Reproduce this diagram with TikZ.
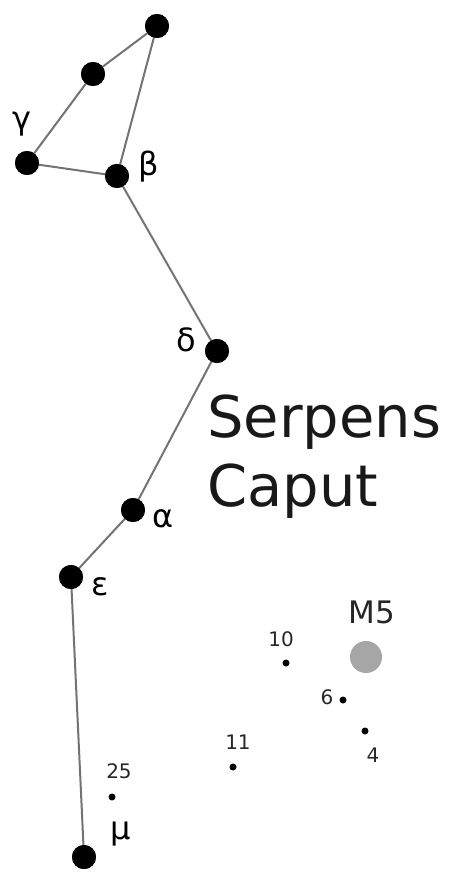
\documentclass[tikz,border=0pt]{standalone}
\usepackage{fontspec}
\setmainfont{DejaVu Sans}
\begin{document}
\begin{tikzpicture}[x=1pt,y=-1pt,
  bigstar/.style={circle,fill=black,inner sep=0pt,minimum size=24pt},
  smallstar/.style={circle,fill=black,inner sep=0pt,minimum size=7pt},
  cline/.style={draw=black!55,line width=2pt},
  glabel/.style={font=\fontsize{32}{34}\selectfont,inner sep=0pt},
  nlabel/.style={font=\fontsize{20}{22}\selectfont,inner sep=0pt,text=black!85}]
\useasboundingbox (0,0) rectangle (450,877);
% bright stars
\node[bigstar] (top) at (157,26) {};
\node[bigstar] (mid) at (93,74) {};
\node[bigstar] (gam) at (27,163) {};
\node[bigstar] (bet) at (117,176) {};
\node[bigstar] (del) at (217,351) {};
\node[bigstar] (alp) at (133,510) {};
\node[bigstar] (eps) at (71,577) {};
\node[bigstar] (mu) at (84,857) {};
% connectors
\draw[cline] (top.center) -- (mid.center) -- (gam.center) -- (bet.center) -- (top.center);
\draw[cline] (bet.center) -- (del.center) -- (alp.center) -- (eps.center) -- (mu.center);
\foreach \s in {top,mid,gam,bet,del,alp,eps,mu}{\node[bigstar] at (\s) {};}
% greek labels
\node[glabel] (lgam) at (22,124) {γ};
\node[glabel] (lbet) at (149,167) {β};
\node[glabel] (ldel) at (186,340) {δ};
\node[glabel] (lalp) at (163,519) {α};
\node[glabel] (leps) at (100,587) {ε};
\node[glabel] (lmu) at (121,834) {μ};
% faint stars
\node[smallstar] (s25) at (112,797) {};
\node[smallstar] (s11) at (233,767) {};
\node[smallstar] (s10) at (286,663) {};
\node[smallstar] (s6) at (343,700) {};
\node[smallstar] (s4) at (365,731) {};
\node[nlabel] (l25) at (119,771) {25};
\node[nlabel] (l11) at (238,742) {11};
\node[nlabel] (l10) at (281,639) {10};
\node[nlabel] (l6) at (327,697) {6};
\node[nlabel] (l4) at (373,755) {4};
% M5
\node[circle,fill=black!35,inner sep=0pt,minimum size=32pt] (m5) at (366,657) {};
\node[font=\fontsize{31}{33}\selectfont,inner sep=0pt,text=black!85] (lm5) at (372,612) {M5};
% title
\node[font=\fontsize{57.5}{68}\selectfont,inner sep=0pt,anchor=base west,text=black!90] (t1) at (207,437) {Serpens};
\node[font=\fontsize{57.5}{68}\selectfont,inner sep=0pt,anchor=base west,text=black!90] (t2) at (207,506) {Caput};
\end{tikzpicture}
\end{document}
